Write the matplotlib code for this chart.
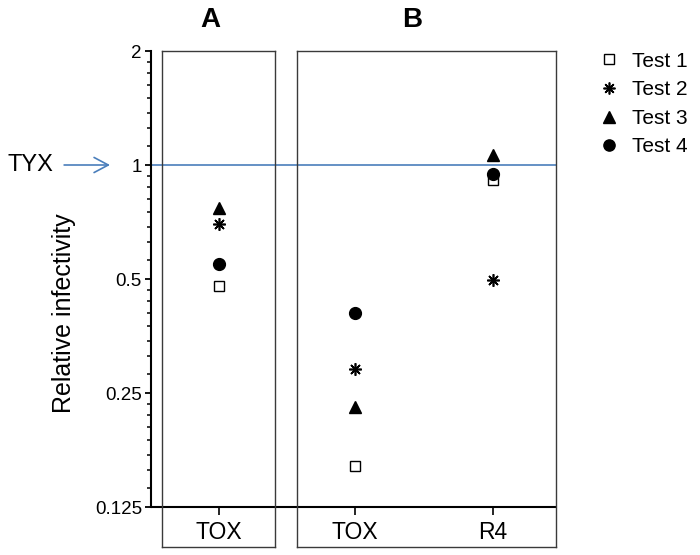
import numpy as np
import matplotlib
matplotlib.use("Agg")
import matplotlib.pyplot as plt
from matplotlib.lines import Line2D

plt.rcParams['font.family'] = ['Liberation Sans', 'DejaVu Sans']

# data: columns are A-TOX, B-TOX, B-R4
panel_a_labels = ["TOX"]
panel_b_labels = ["TOX", "R4"]
test1 = [0.48, 0.16, 0.913]
test2 = [0.70, 0.29, 0.497]
test3 = [0.77, 0.229, 1.06]
test4 = [0.548, 0.407, 0.947]
series = {"Test 1": test1, "Test 2": test2, "Test 3": test3, "Test 4": test4}
y_ticks = [0.125, 0.25, 0.5, 1, 2]
y_ticklabels = ["0.125", "0.25", "0.5", "1", "2"]
ref_level = 1

styles = {
    "Test 1": dict(marker="s", markersize=7.5, markerfacecolor="white",
                   markeredgecolor="black", markeredgewidth=1.0),
    "Test 2": dict(marker=(8, 2, 0), markersize=9, markeredgecolor="black",
                   markeredgewidth=1.2),
    "Test 3": dict(marker="^", markersize=9, color="black"),
    "Test 4": dict(marker="o", markersize=8.5, color="black"),
}
blue = "#4a7ebb"

W, H = 700, 555
fig = plt.figure(figsize=(7, 5.55), dpi=100)


def rect(x0, x1, y0, y1):
    # pixel box -> figure fraction
    return [x0 / W, 1 - y1 / H, (x1 - x0) / W, (y1 - y0) / H]


# y range: 2 at top edge, box goes 40 px below 0.125 (114 px per doubling)
ylo = 0.125 * 2 ** (-40 / 114)
yhi = 2

# axis / reference lines
ax0 = fig.add_axes(rect(151, 556, 51, 547))
ax0.set_yscale("log", base=2)
ax0.set_ylim(ylo, yhi)
ax0.set_xlim(0, 1)
ax0.patch.set_visible(False)
for s in ["top", "right", "bottom"]:
    ax0.spines[s].set_visible(False)
ax0.spines["left"].set_bounds(0.125, 2)
ax0.spines["left"].set_linewidth(1.5)
ax0.set_xticks([])
ax0.set_yticks(y_ticks)
ax0.set_yticklabels(y_ticklabels, fontsize=13.5)
minors = [a * (1 + k / 8) for a in y_ticks[:-1] for k in range(1, 8)]
ax0.set_yticks(minors, minor=True)
ax0.yaxis.set_minor_formatter(matplotlib.ticker.NullFormatter())
ax0.tick_params(axis="y", which="major", length=4.5, width=1.3, pad=2)
ax0.tick_params(axis="y", which="minor", length=2.8, width=1.1)
ax0.axhline(0.125, color="black", lw=1.5)
ax0.axhline(ref_level, color=blue, lw=1.2)

ax0.annotate("TYX", xy=(110 / W, ref_level), xycoords=("figure fraction", "data"),
             xytext=(53 / W, ref_level), textcoords=("figure fraction", "data"),
             ha="right", va="center", fontsize=17,
             arrowprops=dict(arrowstyle="->,head_length=0.6,head_width=0.32",
                             color=blue, lw=1.2, shrinkA=6, shrinkB=0))

fig.text(64 / W, 1 - 313 / H, "Relative infectivity", rotation=90,
         ha="center", va="center", fontsize=18)


def panel(x0, x1, labels, cols, xlim, title, tx):
    ax = fig.add_axes(rect(x0, x1, 51, 547))
    ax.set_yscale("log", base=2)
    ax.set_ylim(ylo, yhi)
    ax.set_xlim(*xlim)
    ax.patch.set_visible(False)
    for sp in ax.spines.values():
        sp.set_color("#3a3a3a")
        sp.set_linewidth(1.0)
    ax.set_xticks([])
    ax.set_yticks([])
    ax.yaxis.set_minor_locator(matplotlib.ticker.NullLocator())
    xs = np.arange(1, len(labels) + 1)
    for name, vals in series.items():
        ax.plot(xs, [vals[c] for c in cols], linestyle="none",
                label=name, **styles[name])
    frac = (np.log2(0.125) - np.log2(ylo)) / (np.log2(yhi) - np.log2(ylo))
    sec = ax.secondary_xaxis(frac)
    sec.spines["bottom"].set_visible(False)
    sec.set_xticks(xs)
    sec.set_xticklabels(labels, fontsize=16.5)
    sec.tick_params(axis="x", length=6, width=1.2, pad=4, direction="out")
    fig.text(tx / W, 1 - 20 / H, title, ha="center", va="center",
             fontsize=20, fontweight="bold")
    return ax


axA = panel(162, 275, panel_a_labels, [0], (0.59, 1.41), "A", 210)
axB = panel(297, 556, panel_b_labels, [1, 2], (0.58, 2.457), "B", 412)

handles = [Line2D([], [], linestyle="none", **styles[n]) for n in series]
fig.legend(handles, list(series.keys()), loc="upper left",
           bbox_to_anchor=(580 / W, 1 - 33 / H), frameon=False, fontsize=15,
           handlelength=1.0, handletextpad=0.6, labelspacing=0.46,
           markerscale=0.95)

fig.savefig("out.png", dpi=100)
